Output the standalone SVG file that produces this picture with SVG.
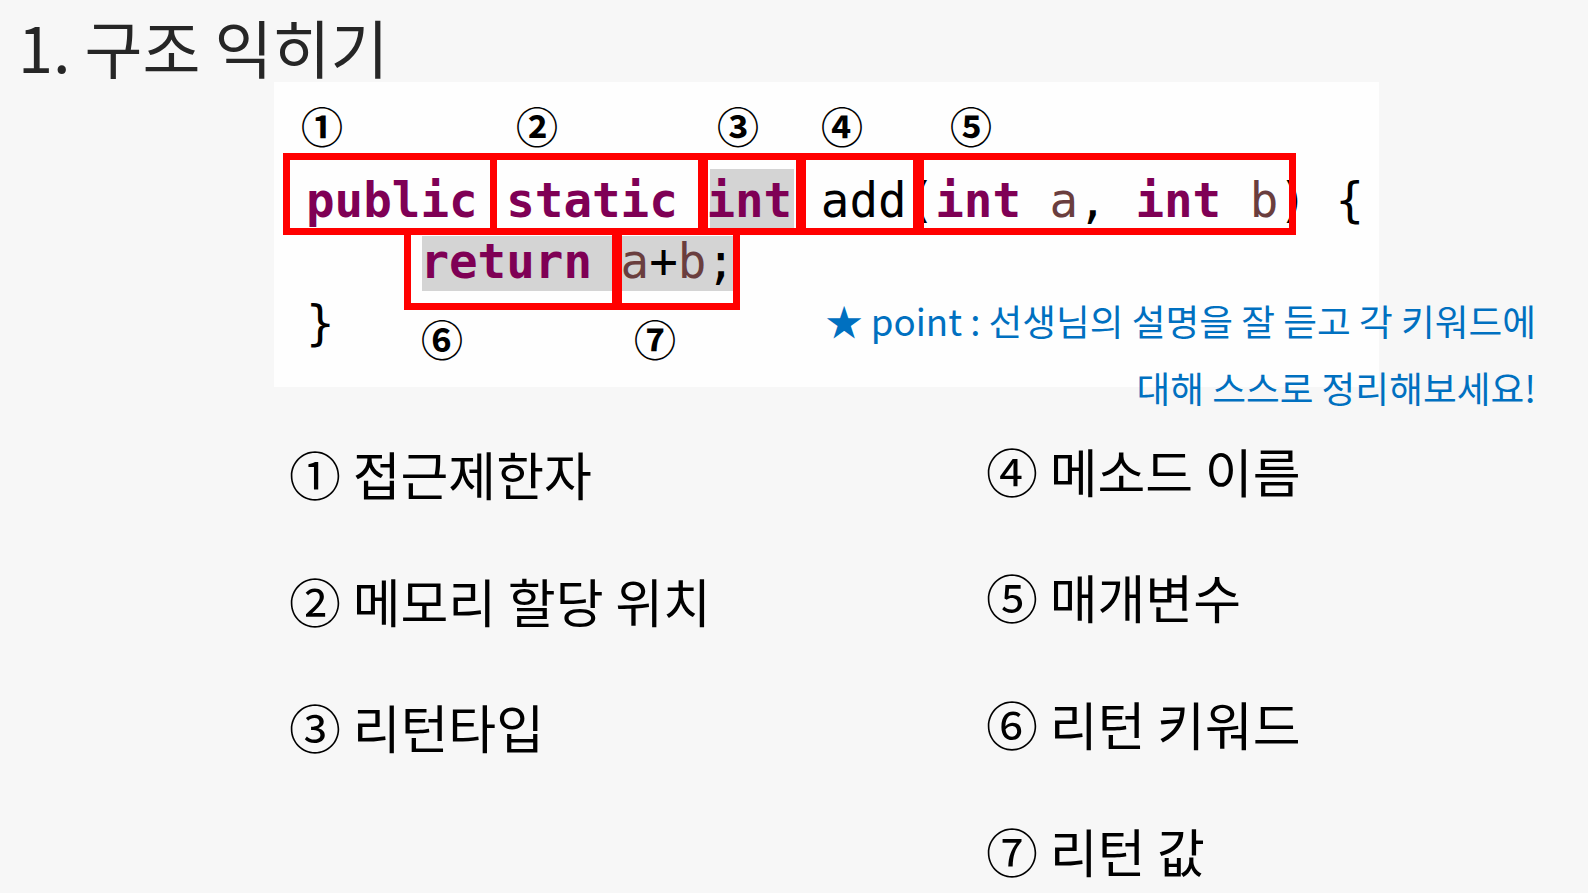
<svg xmlns="http://www.w3.org/2000/svg" width="1588" height="893" viewBox="0 0 1588 893">
<defs>
<style>
.bg{fill:#f7f7f7}
.panel{fill:#fefefe}
.hl{fill:#d4d4d4}
.box{fill:none;stroke:#ff0000;stroke-width:7}
.code{font-family:"DejaVu Sans Mono","Liberation Mono",monospace;font-size:47.5px;fill:#000}
.kw{font-weight:bold;fill:#7f0055}
.var{fill:#6a3e3e}
.num{font-family:"Noto Sans CJK KR","Noto Sans",sans-serif;font-size:42px;font-weight:bold;fill:#000;text-anchor:middle}
.title{font-family:"Noto Sans CJK KR","Noto Sans",sans-serif;font-size:63px;fill:#262626}
.item{font-family:"Noto Sans CJK KR","Noto Sans",sans-serif;font-size:52px;fill:#000}
.note{font-family:"Noto Sans CJK KR","Noto Sans",sans-serif;font-size:36.7px;fill:#0070c0;text-anchor:end}
</style>
</defs>
<rect class="bg" x="0" y="0" width="1588" height="893"/>
<text id="title" class="title" x="18" y="73">1. 구조 익히기</text>
<g id="code-panel">
<rect class="panel" x="274" y="82" width="1105" height="305"/>
<rect class="hl" x="710" y="169" width="84" height="59"/>
<rect class="hl" x="422" y="236" width="190" height="55"/>
<rect class="hl" x="622" y="236" width="111" height="55"/>
<g id="code-text" class="code">
<text x="306" y="217" class="kw">public</text>
<text x="506.2" y="217" class="kw">static</text>
<text x="706.4" y="217" class="kw">int</text>
<text x="820.8" y="217">add(</text>
<text x="935.2" y="217" class="kw">int</text>
<text x="1049.6" y="217" class="var">a</text>
<text x="1078.2" y="217">,</text>
<text x="1135.4" y="217" class="kw">int</text>
<text x="1249.8" y="217" class="var">b</text>
<text x="1278.4" y="217">)</text>
<text x="1335.6" y="217">{</text>
<text x="420.4" y="278" class="kw">return</text>
<text x="620.6" y="278" class="var">a</text>
<text x="649.2" y="278">+</text>
<text x="677.8" y="278" class="var">b</text>
<text x="706.4" y="278">;</text>
<text x="306" y="340">}</text>
</g>
</g>
<g id="boxes">
<rect id="box1" class="box" x="286.5" y="156.5" width="207" height="75"/>
<rect id="box2" class="box" x="493.5" y="156.5" width="211" height="75"/>
<rect id="box3" class="box" x="701.5" y="156.5" width="101" height="75"/>
<rect id="box4" class="box" x="799.5" y="156.5" width="121" height="75"/>
<rect id="box5" class="box" x="916.5" y="156.5" width="376" height="75"/>
<rect id="box6" class="box" x="407.5" y="231.5" width="211" height="75"/>
<rect id="box7" class="box" x="615.5" y="231.5" width="121" height="75"/>
</g>
<g id="markers">
<text class="num" x="322" y="143">①</text>
<text class="num" x="537" y="143">②</text>
<text class="num" x="738" y="143">③</text>
<text class="num" x="842" y="143">④</text>
<text class="num" x="971" y="143">⑤</text>
<text class="num" x="442" y="356">⑥</text>
<text class="num" x="655" y="356">⑦</text>
</g>
<g id="note">
<text class="note" x="1536" y="336">★ point : 선생님의 설명을 잘 듣고 각 키워드에</text>
<text class="note" x="1536" y="403">대해 스스로 정리해보세요!</text>
</g>
<g id="legend">
<text id="item1" class="item" x="289" y="496">① 접근제한자</text>
<text id="item2" class="item" x="289" y="623">② 메모리 할당 위치</text>
<text id="item3" class="item" x="289" y="749">③ 리턴타입</text>
<text id="item4" class="item" x="986" y="493">④ 메소드 이름</text>
<text id="item5" class="item" x="986" y="619">⑤ 매개변수</text>
<text id="item6" class="item" x="986" y="746">⑥ 리턴 키워드</text>
<text id="item7" class="item" x="986" y="873">⑦ 리턴 값</text>
</g>
</svg>
